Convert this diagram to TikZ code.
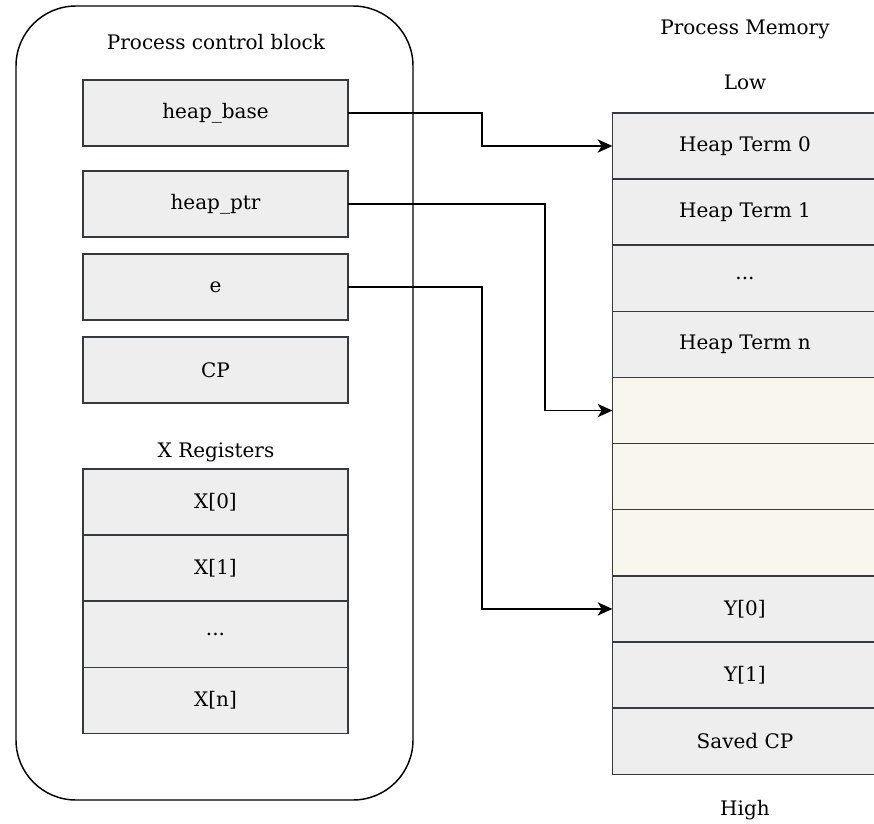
\documentclass[tikz,border=0pt]{standalone}
\usepackage{fontspec}
\setmainfont{DejaVu Serif}
\usepackage{xcolor}
\definecolor{cellgray}{HTML}{EEEEEE}
\definecolor{cellcream}{HTML}{F9F7ED}
\definecolor{cellborder}{HTML}{36393D}
\usetikzlibrary{positioning, arrows.meta}

\begin{document}
\begin{tikzpicture}[x=0.75pt, y=-0.75pt, node distance=0pt,
        cell/.style={rectangle, draw=cellborder, line width=1.1pt, fill=cellgray, minimum width=199pt, minimum height=49.6pt, inner sep=0pt, outer sep=0pt, font=\fontsize{15}{18}\selectfont},
        free/.style={cell, fill=cellcream},
        caption/.style={inner sep=0pt, font=\fontsize{15}{18}\selectfont},
        line/.style={draw=black, line width=1.1pt, -{Stealth[length=11pt, width=10pt, inset=3pt]}}]
        \useasboundingbox (0,0) rectangle (874,824);

        % process control block
        \node [draw, line width=1.1pt, rounded corners=45pt, minimum width=297.75pt, minimum height=595.5pt] (pcb) at (214.5,403) {};
        \node [caption] (pcbtitle) at (216,42) {Process control block};

        \node [cell] (hbase) at (215.5,113) {heap\_base};
        \node [cell] (hptr) at (215.5,204) {heap\_ptr};
        \node [cell] (env) at (215.5,287) {e};
        \node [cell] (cp) at (215.5,370) {CP};

        \node [caption] (xtitle) at (216,452) {X Registers};
        \node [cell] (x0) at (215.5,502) {X[0]};
        \node [cell, below=of x0] (x1) {X[1]};
        \node [cell, below=of x1] (xdots) {...};
        \node [cell, below=of xdots] (xn) {X[n]};

        % process memory
        \node [caption] (memtitle) at (745,29) {Process Memory};
        \node [caption] (low) at (745,82) {Low};

        \node [cell] (m0) at (745,146) {Heap Term 0};
        \node [cell, below=of m0] (m1) {Heap Term 1};
        \node [cell, below=of m1] (mdots) {...};
        \node [cell, below=of mdots] (mn) {Heap Term n};
        \node [free, below=of mn] (f0) {};
        \node [free, below=of f0] (f1) {};
        \node [free, below=of f1] (f2) {};
        \node [cell, below=of f2] (y0) {Y[0]};
        \node [cell, below=of y0] (y1) {Y[1]};
        \node [cell, below=of y1] (savedcp) {Saved CP};

        \node [caption] (high) at (745,810) {High};

        \path [line] (hbase.east) -- ++(134,0) |- (m0.west);
        \path [line] (hptr.east) -- ++(197,0) |- (f0.west);
        \path [line] (env.east) -- ++(134,0) |- (y0.west);
    \end{tikzpicture}
\end{document}
